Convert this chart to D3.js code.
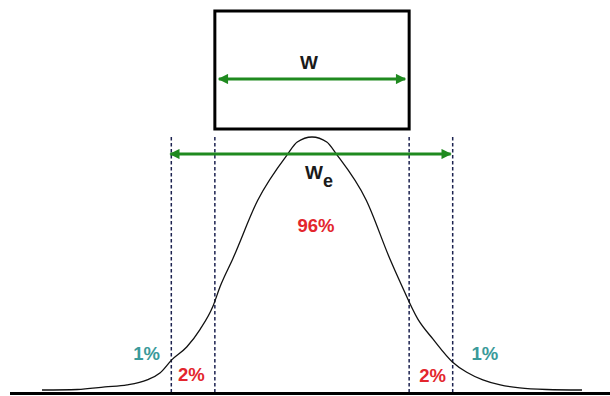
<!DOCTYPE html>
<html>
<head>
<meta charset="utf-8">
<script src="https://cdn.jsdelivr.net/npm/d3@7"></script>
<style>
  html, body { margin: 0; padding: 0; background: #ffffff; }
  svg { display: block; }
  text { font-family: Arial, "Liberation Sans", sans-serif; font-weight: bold; }
</style>
</head>
<body>
<div id="chart"></div>
<script>
// Peak profile: position in standard deviations, relative height (peak = 1)
const curveX = [-4.03, -3.5, -3.09, -2.76, -2.46, -2.27, -2.09, -1.87, -1.67, -1.48, -1.37, -1.18, -0.81, -0.37, -0.22, 0,
                0.22, 0.37, 0.81, 1.16, 1.31, 1.58, 1.81, 2.1, 2.31, 2.55, 2.81, 3.1, 3.5, 4.03];
const curveY = [0, 0.002, 0.012, 0.02, 0.04, 0.067, 0.12, 0.17, 0.24, 0.33, 0.41, 0.52, 0.75, 0.93, 0.98, 1,
                0.98, 0.93, 0.75, 0.52, 0.43, 0.28, 0.2, 0.11, 0.07, 0.04, 0.02, 0.008, 0.002, 0];

// Window widths (in standard deviations)
const wBounds = [-1.45, 1.45];
const weBounds = [-2.1, 2.1];

// Area fractions in each region
const regionLabels = ["1%", "2%", "96%", "2%", "1%"];
const regionKinds  = ["outer", "inner", "center", "inner", "outer"];

const width = 610, height = 396;
const svg = d3.select("#chart").append("svg")
  .attr("width", width).attr("height", height);

const x = d3.scaleLinear().domain([-4.03, 4.03]).range([42, 582]);
const y = d3.scaleLinear().domain([0, 1]).range([390, 137]);

const green = "#1f8a1f";
const defs = svg.append("defs");
["start", "end"].forEach(kind => {
  defs.append("marker")
    .attr("id", "arrow-" + kind)
    .attr("viewBox", "0 0 10 10")
    .attr("refX", kind === "end" ? 9 : 1).attr("refY", 5)
    .attr("markerWidth", 4).attr("markerHeight", 3.4)
    .attr("markerUnits", "strokeWidth")
    .attr("orient", "auto")
    .append("path")
    .attr("d", kind === "end" ? "M0,0 L10,5 L0,10 Z" : "M10,0 L0,5 L10,10 Z")
    .attr("fill", green);
});

// Baseline
svg.append("line")
  .attr("x1", 10).attr("x2", width)
  .attr("y1", 393.5).attr("y2", 393.5)
  .attr("stroke", "#000").attr("stroke-width", 3);

// Dashed window boundaries
const dashX = [weBounds[0], wBounds[0], wBounds[1], weBounds[1]];
svg.append("g").selectAll("line").data(dashX).join("line")
  .attr("x1", d => x(d)).attr("x2", d => x(d))
  .attr("y1", 137).attr("y2", 392)
  .attr("stroke", "#1c2250").attr("stroke-width", 1.5)
  .attr("stroke-dasharray", "3.5,2.5");

// Peak
const line = d3.line()
  .x((d, i) => x(curveX[i]))
  .y((d, i) => y(curveY[i]))
  .curve(d3.curveMonotoneX);
svg.append("path")
  .attr("d", line(curveX))
  .attr("fill", "none")
  .attr("stroke", "#111")
  .attr("stroke-width", 1.3);

// Box for window W
svg.append("rect")
  .attr("x", x(wBounds[0])).attr("y", 11)
  .attr("width", x(wBounds[1]) - x(wBounds[0])).attr("height", 118)
  .attr("fill", "none").attr("stroke", "#000").attr("stroke-width", 3);

// W arrow
svg.append("line")
  .attr("x1", x(wBounds[0]) + 4).attr("x2", x(wBounds[1]) - 4)
  .attr("y1", 79).attr("y2", 79)
  .attr("stroke", green).attr("stroke-width", 3)
  .attr("marker-start", "url(#arrow-start)")
  .attr("marker-end", "url(#arrow-end)");
svg.append("text")
  .attr("x", x(0) - 3).attr("y", 69)
  .attr("text-anchor", "middle")
  .attr("font-size", 19).attr("fill", "#1a1a1a")
  .text("W");

// We arrow
svg.append("line")
  .attr("x1", x(weBounds[0]) - 1).attr("x2", x(weBounds[1]) - 2)
  .attr("y1", 154).attr("y2", 154)
  .attr("stroke", green).attr("stroke-width", 3)
  .attr("marker-start", "url(#arrow-start)")
  .attr("marker-end", "url(#arrow-end)");
const we = svg.append("text")
  .attr("x", x(0) - 7).attr("y", 179)
  .attr("font-size", 19).attr("fill", "#1a1a1a");
we.append("tspan").text("W");
we.append("tspan").attr("dy", 8).attr("font-size", 18).text("e");

// Region labels
const colorOf = { outer: "#3a9a9a", inner: "#e3262d", center: "#e3262d" };
const labelPos = [
  { x: x(-2.47), y: 360 },
  { x: x(-1.8),  y: 381 },
  { x: x(0.06),  y: 232 },
  { x: x(1.8),   y: 382 },
  { x: x(2.58),  y: 360 }
];
svg.append("g").selectAll("text").data(regionLabels).join("text")
  .attr("x", (d, i) => labelPos[i].x)
  .attr("y", (d, i) => labelPos[i].y)
  .attr("text-anchor", "middle")
  .attr("font-size", 18.5)
  .attr("fill", (d, i) => colorOf[regionKinds[i]])
  .text(d => d);
</script>
</body>
</html>
